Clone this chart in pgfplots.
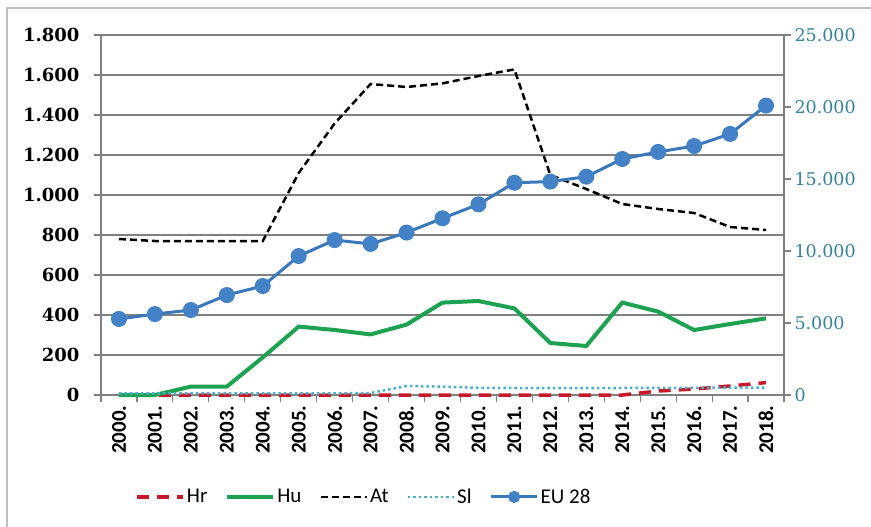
\documentclass[border=0pt]{standalone}
\usepackage{pgfplots}
\pgfplotsset{compat=1.18}
\usepackage{fontspec}
\setmainfont{Carlito}
\newfontfamily\numfont{DejaVu Serif}

\definecolor{eublue}{RGB}{58,120,188}
\definecolor{eumark}{RGB}{68,130,200}
\definecolor{hugreen}{RGB}{28,162,80}
\definecolor{hrred}{RGB}{200,24,40}
\definecolor{slcyan}{RGB}{70,176,204}
\definecolor{rightlab}{RGB}{52,132,152}
\definecolor{gridgray}{RGB}{128,128,128}

\pgfplotsset{
  base/.style={
    scale only axis, width=683pt, height=360pt,
    at={(101pt,-395pt)}, anchor=south west,
    xmin=-0.5, xmax=18.5,
    tick align=outside,
    axis line style={-, draw=gridgray, line width=1.2pt},
    tick style={draw=gridgray, line width=1.2pt},
    major tick length=7pt,
    scaled y ticks=false,
    clip=false,
    /pgf/number format/.cd, 1000 sep={.}, assume math mode=true,
  },
}

\begin{document}
\begin{tikzpicture}[x=1pt,y=1pt]
\useasboundingbox (0,0) rectangle (871,-527);
\draw[gray!50, line width=1.5pt] (7,-527) -- (7,-8) -- (871,-8);

% left axis: Hr, Hu, At, Sl
\begin{axis}[base,
  ymin=0, ymax=1800, ytick={0,200,...,1800},
  axis y line*=left, axis x line*=bottom,
  ymajorgrids, grid style={gridgray, line width=1.2pt},
  xtick={-0.5,0.5,...,18.5},
  x tick label as interval,
  xticklabels={2000.,2001.,2002.,2003.,2004.,2005.,2006.,2007.,2008.,2009.,2010.,2011.,2012.,2013.,2014.,2015.,2016.,2017.,2018.},
  x tick label style={rotate=90, anchor=east, font=\fontsize{21}{21}\selectfont\bfseries},
  y tick label style={font=\numfont\bfseries\fontsize{18}{18}\selectfont, xshift=-11pt},
]
% Hr
\addplot[hrred, line width=3.5pt, dash pattern=on 12pt off 8pt] coordinates {
  (0,0) (1,0) (2,0) (3,0) (4,0) (5,0) (6,0) (7,0) (8,0) (9,0)
  (10,0) (11,0) (12,0) (13,0) (14,0) (15,20) (16,30) (17,45) (18,62)
};
% Hu
\addplot[hugreen, line width=4pt] coordinates {
  (0,0) (1,0) (2,42) (3,42) (4,188) (5,342) (6,325) (7,303) (8,352) (9,462)
  (10,470) (11,433) (12,260) (13,245) (14,462) (15,417) (16,325) (17,355) (18,383)
};
% At
\addplot[black, line width=2.5pt, dash pattern=on 7pt off 4pt] coordinates {
  (0,780) (1,770) (2,770) (3,770) (4,770) (5,1110) (6,1358) (7,1555) (8,1540) (9,1558)
  (10,1595) (11,1628) (12,1100) (13,1030) (14,955) (15,930) (16,910) (17,840) (18,825)
};
% Sl
\addplot[slcyan, line width=2.5pt, dash pattern=on 2.5pt off 3pt] coordinates {
  (0,8) (1,8) (2,8) (3,8) (4,8) (5,8) (6,8) (7,10) (8,45) (9,42)
  (10,36) (11,35) (12,35) (13,35) (14,35) (15,36) (16,36) (17,37) (18,37)
};
\end{axis}

% right axis: EU 28
\begin{axis}[base,
  ymin=0, ymax=25000, ytick={0,5000,...,25000},
  axis y line*=right, axis x line=none,
  y tick label style={font=\numfont\fontsize{17.5}{17.5}\selectfont, text=rightlab},
  legend columns=5,
  legend image code/.code={\draw[mark repeat=2,mark phase=2,#1,mark size=4.5pt] plot coordinates {(0pt,0pt) (23pt,0pt) (46pt,0pt)};},
  legend style={draw=none, fill=none, at={(0.385,-0.283)}, anchor=center,
    font=\fontsize{21}{21}\selectfont,
    /tikz/every even column/.append style={column sep=16pt},
    inner xsep=2pt},
]
\addlegendimage{hrred, line width=3.5pt, dash pattern=on 12pt off 8pt}
\addlegendentry{Hr}
\addlegendimage{hugreen, line width=4pt}
\addlegendentry{Hu}
\addlegendimage{black, line width=2.5pt, dash pattern=on 7pt off 4pt}
\addlegendentry{At}
\addlegendimage{slcyan, line width=2.5pt, dash pattern=on 2.5pt off 3pt}
\addlegendentry{Sl}
\addplot[eublue, line width=3pt, mark=*, mark size=6.5pt, mark options={fill=eumark, draw=eumark, solid}] coordinates {
  (0,5280) (1,5620) (2,5900) (3,6940) (4,7570) (5,9650) (6,10760) (7,10490) (8,11280) (9,12270)
  (10,13240) (11,14740) (12,14820) (13,15160) (14,16390) (15,16880) (16,17290) (17,18130) (18,20100)
};
\addlegendentry{EU 28}
\end{axis}
\end{tikzpicture}
\end{document}
